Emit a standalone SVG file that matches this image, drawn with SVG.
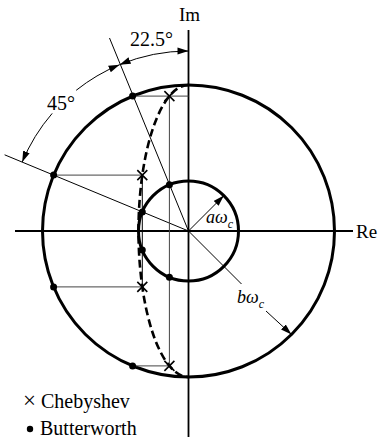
<svg xmlns="http://www.w3.org/2000/svg" width="380" height="444" viewBox="0 0 380 444">
<style>
.txt{font-family:"Liberation Serif","Times New Roman","DejaVu Serif",serif;fill:#000}
.it{font-style:italic}
.thick{fill:none;stroke:#000;stroke-width:3}
.axis{fill:none;stroke:#000;stroke-width:1.8}
.thin{fill:none;stroke:#000;stroke-width:1}
.guide{fill:none;stroke:#444;stroke-width:1}
.dash{fill:none;stroke:#000;stroke-width:2.6;stroke-dasharray:8 4}
.dot{fill:#000}
.x{stroke:#000;stroke-width:1.6;fill:none}
</style>
<defs>
<marker id="ah" markerUnits="userSpaceOnUse" markerWidth="12" markerHeight="8" refX="11" refY="3.5" orient="auto-start-reverse">
<path d="M0,0 L11,3.5 L0,7 z" fill="#000"/>
</marker>
</defs>
<g id="axes">
<line class="axis" x1="188.5" y1="30" x2="188.5" y2="437"/>
<line class="axis" x1="15" y1="231" x2="353" y2="231"/>
<text class="txt" x="179" y="21" font-size="19">Im</text>
<text class="txt" x="356" y="238" font-size="19">Re</text>
</g>
<g id="outer-circle">
<circle class="thick" cx="188.5" cy="231" r="146"/>
</g>
<g id="inner-circle">
<circle class="thick" cx="188.5" cy="231" r="50"/>
</g>
<g id="connectors">
<line class="thin" x1="188.5" y1="231" x2="109.5" y2="38"/>
<line class="thin" x1="188.5" y1="231" x2="4.6" y2="154.8"/>
<line class="guide" x1="132.6" y1="96.1" x2="188.5" y2="96.1"/>
<line class="guide" x1="53.6" y1="175.1" x2="142.3" y2="175.1"/>
<line class="guide" x1="53.6" y1="286.9" x2="142.3" y2="286.9"/>
<line class="guide" x1="132.6" y1="365.9" x2="169.4" y2="365.9"/>
<line class="guide" x1="169.4" y1="96.1" x2="169.4" y2="365.9"/>
<line class="thin" x1="142.3" y1="175.1" x2="142.3" y2="286.9" stroke-width="2"/>
<path class="dash" d="M188.5 85 A50 146 0 0 0 188.5 377"/>
<path class="thin" d="M52.2 113.4 A180 180 0 0 0 22.2 162.1" marker-end="url(#ah)"/>
<path class="thin" d="M76.2 90.3 A180 180 0 0 1 119.6 64.7" marker-end="url(#ah)"/>
<path class="thin" d="M119.6 64.7 A180 180 0 0 1 188.5 51" marker-start="url(#ah)" marker-end="url(#ah)"/>
<line class="thin" x1="188.5" y1="231" x2="223.9" y2="195.6" marker-end="url(#ah)"/>
<line class="thin" x1="188.5" y1="231" x2="241.5" y2="284"/>
<line class="thin" x1="266" y1="311" x2="291.5" y2="334.5" marker-end="url(#ah)"/>
</g>
<g id="butterworth-poles">
<circle class="dot" cx="132.6" cy="96.1" r="3.5"/>
<circle class="dot" cx="53.6" cy="175.1" r="3.5"/>
<circle class="dot" cx="53.6" cy="286.9" r="3.5"/>
<circle class="dot" cx="132.6" cy="365.9" r="3.5"/>
<circle class="dot" cx="169.4" cy="184.8" r="3.5"/>
<circle class="dot" cx="142.3" cy="211.9" r="3.5"/>
<circle class="dot" cx="142.3" cy="250.1" r="3.5"/>
<circle class="dot" cx="169.4" cy="277.2" r="3.5"/>
</g>
<g id="chebyshev-poles">
<path class="x" d="M164.4 91.1 L174.4 101.1 M174.4 91.1 L164.4 101.1"/>
<path class="x" d="M137.3 170.1 L147.3 180.1 M147.3 170.1 L137.3 180.1"/>
<path class="x" d="M137.3 281.9 L147.3 291.9 M147.3 281.9 L137.3 291.9"/>
<path class="x" d="M164.4 360.9 L174.4 370.9 M174.4 360.9 L164.4 370.9"/>
</g>
<g id="labels">
<text class="txt" x="130" y="46" font-size="20">22.5°</text>
<text class="txt" x="47" y="110" font-size="20">45°</text>
<text class="txt it" x="206" y="223" font-size="18">aω<tspan font-size="12" dy="5">c</tspan></text>
<text class="txt it" x="237" y="303" font-size="18">bω<tspan font-size="12" dy="5">c</tspan></text>
</g>
<g id="legend">
<text class="txt" x="23" y="408" font-size="20"><tspan font-size="23">×</tspan> Chebyshev</text>
<circle class="dot" cx="30" cy="429" r="3.2"/>
<text class="txt" x="40" y="435" font-size="20">Butterworth</text>
</g>
</svg>
